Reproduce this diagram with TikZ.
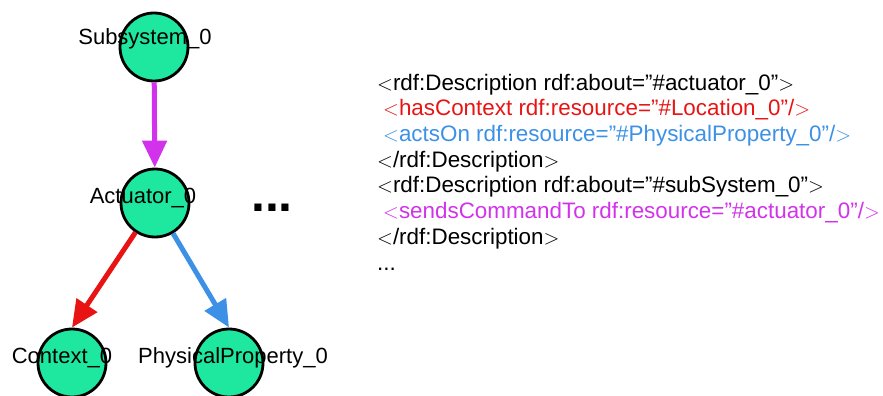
\documentclass[tikz,border=0pt]{standalone}
\usepackage{fontspec}
\setmainfont{Liberation Sans}
\usepackage{xcolor}
\usepackage{tikz}
\usetikzlibrary{positioning,arrows.meta}
\definecolor{nodegreen}{RGB}{30,232,160}
\definecolor{cmdmagenta}{RGB}{210,50,235}
\definecolor{ctxred}{RGB}{232,20,20}
\definecolor{actblue}{RGB}{60,145,230}

\begin{document}
\begin{tikzpicture}[x=1pt,y=-1pt,
  ent/.style={circle,draw=black,line width=2.8pt,fill=nodegreen,minimum size=68pt,inner sep=0pt},
  lbl/.style={font=\fontsize{22}{26}\selectfont,inner sep=0pt,anchor=base},
  rel/.style={line width=5pt,-{Triangle[width=24pt,length=27pt]}},
  rdf/.style={font=\fontsize{22.4}{26}\selectfont,inner sep=0pt,anchor=base west}]
\useasboundingbox (0,0) rectangle (883,396);
% graph
\node[ent] (sub) at (154,47) {};
\node[ent] (act) at (155,203) {};
\node[ent] (ctx) at (72,363) {};
\node[ent] (pp) at (229,363) {};
\draw[rel,cmdmagenta] (sub) -- (act);
\draw[rel,ctxred] (act) -- (ctx.north);
\draw[rel,actblue] (act) -- (pp.north);
\node[lbl] (sublbl) at (145,45) {Subsystem\_0};
\node[lbl] (actlbl) at (143,203) {Actuator\_0};
\node[lbl] (ctxlbl) at (62,363) {Context\_0};
\node[lbl] (pplbl) at (233,363) {PhysicalProperty\_0};
\node[lbl,font=\fontsize{50}{50}\selectfont\bfseries] (dots) at (272,211) {...};
% rdf listing
\node[rdf] (l1) at (377,90) {$<$rdf:Description rdf:about=”\#actuator\_0”$>$};
\node[rdf,text=ctxred] (l2) at (383,115.7) {$<$hasContext rdf:resource=”\#Location\_0”/$>$};
\node[rdf,text=actblue] (l3) at (383,141.4) {$<$actsOn rdf:resource=”\#PhysicalProperty\_0”/$>$};
\node[rdf] (l4) at (377,167) {$<$/rdf:Description$>$};
\node[rdf] (l5) at (377,192.8) {$<$rdf:Description rdf:about=”\#subSystem\_0”$>$};
\node[rdf,text=cmdmagenta] (l6) at (383,218.5) {$<$sendsCommandTo rdf:resource=”\#actuator\_0”/$>$};
\node[rdf] (l7) at (377,244) {$<$/rdf:Description$>$};
\node[rdf] (l8) at (377,270) {...};
\end{tikzpicture}
\end{document}
